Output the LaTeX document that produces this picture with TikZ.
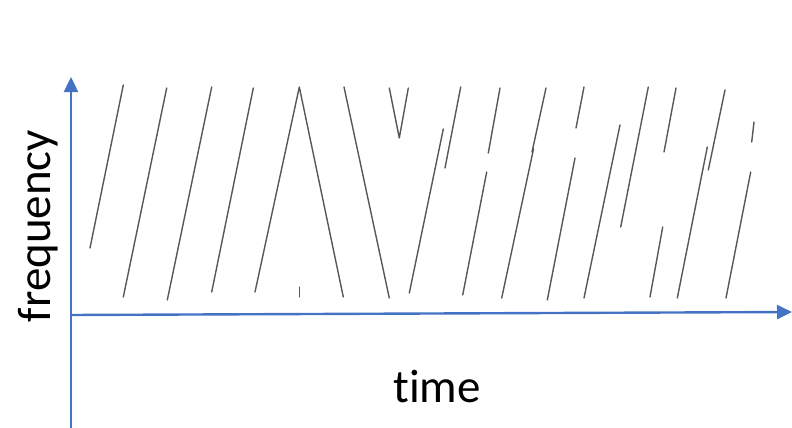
\documentclass[tikz,border=0pt]{standalone}
\usepackage{fontspec}
\setmainfont{Carlito}[Ligatures=NoCommon]
\usetikzlibrary{arrows.meta}
\definecolor{axisblue}{HTML}{4472C4}
\tikzset{
  axisline/.style={draw=axisblue, line width=2.4pt, -{Triangle[length=15pt,width=14pt]}},
  chirp/.style={draw=black!66, line width=1.4pt, line cap=round, line join=round},
  axislabel/.style={font=\fontsize{47}{51}\selectfont, inner sep=0pt}
}
\begin{document}
\begin{tikzpicture}[x=1pt,y=-1pt]
\useasboundingbox (0,0) rectangle (792,428);
% axes
\coordinate (vbot) at (71,428);
\coordinate (vtop) at (71,77);
\coordinate (hleft) at (70,315);
\coordinate (hright) at (792,312);
\draw[axisline] (vbot) -- (vtop);
\draw[axisline] (hleft) -- (hright);
% labels
\node[axislabel, anchor=base] (tlabel) at (437,402) {time};
\node[axislabel, rotate=90, anchor=base] (flabel) at (50,226) {frequency};
% chirps
\draw[chirp] (123.3,85) -- (90,248);
\draw[chirp] (166.7,88) -- (123.3,297);
\draw[chirp] (211.7,87) -- (167.3,300);
\draw[chirp] (253.3,88) -- (211.7,292);
\draw[chirp] (255,292) -- (299.3,87) -- (343.3,297);
\draw[chirp] (299.3,287) -- (299.3,297);
\draw[chirp] (344,87) -- (389.3,298);
\draw[chirp] (389.3,88) -- (399.3,138) -- (408.3,88);
\draw[chirp] (409.3,293) -- (443.3,129);
\draw[chirp] (460.7,87) -- (445,168);
\draw[chirp] (500,88) -- (488.3,153);
\draw[chirp] (486.7,172) -- (462.7,295);
\draw[chirp] (546,88) -- (532,152) -- (533.5,149) -- (501.7,298);
\draw[chirp] (584,87) -- (576,128);
\draw[chirp] (575,158) -- (547.3,300);
\draw[chirp] (620,125) -- (584,298);
\draw[chirp] (648.3,87) -- (620.7,227);
\draw[chirp] (676,88) -- (664,152);
\draw[chirp] (662.7,227) -- (650,297);
\draw[chirp] (725,90) -- (708.3,170);
\draw[chirp] (707.3,147) -- (677.3,298);
\draw[chirp] (754,122) -- (751.7,142);
\draw[chirp] (750.7,172) -- (726,298);
\end{tikzpicture}
\end{document}
